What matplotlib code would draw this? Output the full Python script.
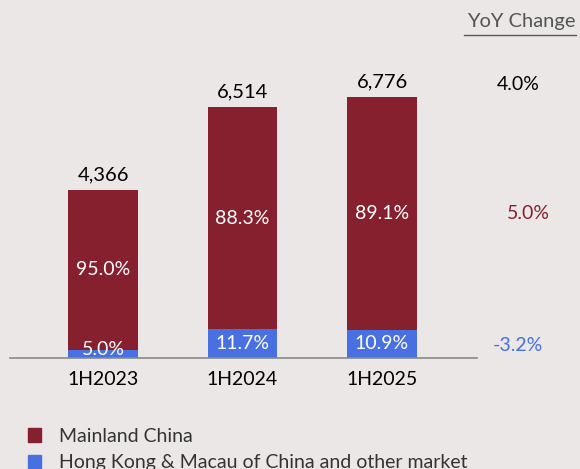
import matplotlib.pyplot as plt
from matplotlib.patches import Patch
from matplotlib.lines import Line2D

# Revenue by region, half-year
periods = ["1H2023", "1H2024", "1H2025"]
totals = [4366, 6514, 6776]
mainland_pct = [95.0, 88.3, 89.1]
hk_pct = [5.0, 11.7, 10.9]
yoy_labels = ["4.0%", "5.0%", "-3.2%"]

bg = "#ebe7e6"
red = "#86202f"
blue = "#4870e0"
plt.rcParams["font.family"] = ["Lato", "DejaVu Sans"]

mainland = [t * p / 100 for t, p in zip(totals, mainland_pct)]
hk = [t * p / 100 for t, p in zip(totals, hk_pct)]

fig = plt.figure(figsize=(5.8, 4.69), dpi=100, facecolor=bg)
ax = fig.add_axes([10 / 580, 1 - 358 / 469, 467 / 580, 298 / 469])
ax.set_facecolor(bg)

x = range(len(periods))
ax.bar(x, hk, width=0.5, color=blue)
ax.bar(x, mainland, width=0.5, bottom=hk, color=red)

for i in x:
    ax.text(i, totals[i] + 180, f"{totals[i]:,}", ha="center", va="bottom",
            fontsize=14.5, color="black")
    ax.text(i, hk[i] + mainland[i] / 2, f"{mainland_pct[i]:.1f}%", ha="center",
            va="center", fontsize=14, color="white")
    ax.text(i, max(hk[i] / 2, 230), f"{hk_pct[i]:.1f}%", ha="center",
            va="center", fontsize=14, color="white")

ax.set_xlim(-0.667, 2.681)
ax.set_ylim(0, 7744)
ax.set_xticks(list(x))
ax.set_xticklabels(periods, fontsize=14)
ax.tick_params(axis="x", length=0, pad=9)
ax.set_yticks([])
for s in ["top", "left", "right"]:
    ax.spines[s].set_visible(False)
ax.spines["bottom"].set_color("#8a8a8a")
ax.spines["bottom"].set_linewidth(1.2)

# YoY column
fig.text(576 / 580, 1 - 22 / 469, "YoY Change", ha="right", va="center",
         fontsize=14.5, color="#555555")
fig.add_artist(Line2D([464 / 580, 576 / 580], [1 - 35 / 469, 1 - 35 / 469],
                      color="#555555", lw=1))
yoy_y = [84, 213, 345]
yoy_colors = ["black", red, blue]
yoy_x = [518, 528, 518]
for lbl, yy, xx, c in zip(yoy_labels, yoy_y, yoy_x, yoy_colors):
    fig.text(xx / 580, 1 - yy / 469, lbl, ha="center", va="center",
             fontsize=14, color=c)

handles = [Patch(color=red, label="Mainland China"),
           Patch(color=blue, label="Hong Kong & Macau of China and other market")]
fig.legend(handles=handles, loc="upper left", bbox_to_anchor=(10 / 580, 1 - 410 / 469),
           frameon=False, fontsize=14, handlelength=0.7, handleheight=0.7,
           handletextpad=0.9, labelspacing=0.5, labelcolor="#333333")

fig.savefig("out.png", dpi=100, facecolor=bg)
